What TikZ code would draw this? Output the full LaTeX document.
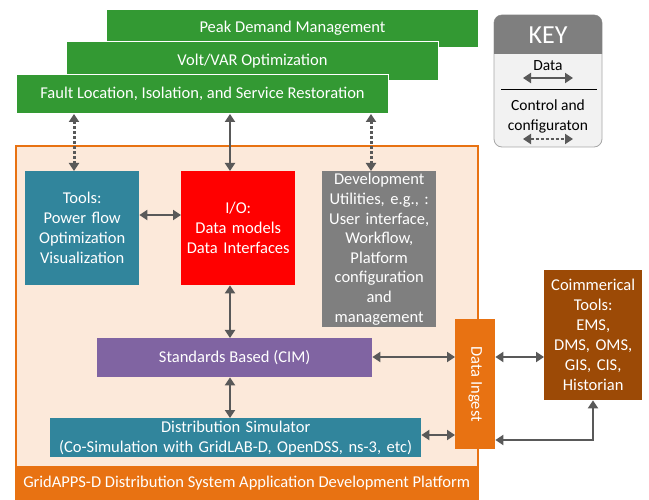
\documentclass[tikz,border=0pt]{standalone}
\usepackage{fontspec}
\setmainfont{Carlito}
\usetikzlibrary{arrows.meta,calc}
\definecolor{grn}{HTML}{339933}
\definecolor{teal2}{HTML}{31859C}
\definecolor{redbox}{HTML}{FF0000}
\definecolor{graybox}{HTML}{7F7F7F}
\definecolor{purp}{HTML}{8064A2}
\definecolor{orng}{HTML}{E87212}
\definecolor{peach}{HTML}{FCE9DA}
\definecolor{brown2}{HTML}{9C4A06}
\definecolor{arrowc}{HTML}{595959}
\definecolor{keylight}{HTML}{F2F2F2}
\definecolor{keyborder}{HTML}{A6A6A6}
\begin{document}
\begin{tikzpicture}[x=1pt,y=-1pt,
  box/.style={anchor=north west,inner sep=0pt,align=center,text=white,
    font=\fontsize{16.5}{20}\selectfont},
  greenbox/.style={box,fill=grn,draw=white,line width=1pt},
  data/.style={draw=arrowc,line width=2.6pt,{Triangle[width=10pt,length=8pt]}-{Triangle[width=10pt,length=8pt]}},
  ctrl/.style={data,dash pattern=on 3pt off 2pt,line width=3pt},
]
\useasboundingbox (0,0) rectangle (649,500);
% green application boxes
\node[greenbox,minimum width=372pt,minimum height=38pt] (peak) at (106,9) {Peak Demand Management};
\node[greenbox,minimum width=372pt,minimum height=39pt] (volt) at (66,41) {Volt/VAR Optimization};
\node[greenbox,minimum width=372pt,minimum height=39pt] (fault) at (16,74) {Fault Location, Isolation, and Service Restoration};
% platform frame
\draw[fill=peach,draw=orng,line width=2pt] (16,146) rectangle (478,500);
\node[box,fill=orng,minimum width=463pt,minimum height=34pt] (platform) at (15,466) {GridAPPS-D Distribution System Application Development Platform};
% inner boxes
\node[box,fill=teal2,minimum width=114pt,minimum height=114pt,text width=112pt] (tools) at (25,171) {Tools:\\Power flow\\Optimization\\Visualization};
\node[box,fill=redbox,minimum width=114pt,minimum height=114pt,text width=112pt] (io) at (181,171) {I/O:\\Data models\\Data Interfaces};
\node[box,fill=graybox,minimum width=114pt,minimum height=156pt,text width=112pt,font=\fontsize{16.5}{19.6}\selectfont] (dev) at (322,171) {Development\\Utilities, e.g., :\\User interface,\\Workflow,\\Platform\\configuration\\and\\management};
\node[box,fill=purp,minimum width=275pt,minimum height=39pt] (cim) at (97,338) {Standards Based (CIM)};
\node[box,fill=teal2,minimum width=371pt,minimum height=39pt,text width=368pt] (sim) at (50,418) {Distribution Simulator\\(Co-Simulation with GridLAB-D, OpenDSS, ns-3, etc)};
\node[box,fill=orng,minimum width=40pt,minimum height=130pt] (ingest) at (455,319) {};
\node[text=white,rotate=-90,font=\fontsize{16.5}{20}\selectfont] (ingestlbl) at (ingest.center) {Data Ingest};
\node[box,fill=brown2,minimum width=98pt,minimum height=130pt,text width=96pt] (comm) at (544,270) {Coimmerical\\Tools:\\EMS,\\DMS, OMS,\\GIS, CIS,\\Historian};
% key
\fill[keylight,draw=keyborder,line width=0.8pt,rounded corners=8pt] (494,15) rectangle (602,147);
\begin{scope}
\clip (490,10) rectangle (606,54);
\fill[graybox,rounded corners=8pt] (494,15) rectangle (602,147);
\end{scope}
\node[text=white,font=\fontsize{26}{28}\selectfont] (keytitle) at (548,35) {KEY};
\node[font=\fontsize{15.5}{18}\selectfont] (keydata) at (548,66) {Data};
\coordinate (kd1) at (523,78);
\coordinate (kd2) at (573,78);
\draw[data,line width=2.2pt] (kd1) -- (kd2);
\coordinate (ks1) at (501,89);
\coordinate (ks2) at (597,89);
\draw[black,line width=0.8pt] (ks1) -- (ks2);
\node[align=center,font=\fontsize{15.5}{20}\selectfont] (keyctrl) at (548,116) {Control and\\configuraton};
\coordinate (kc1) at (523,139);
\coordinate (kc2) at (573,139);
\draw[ctrl,line width=2.4pt] (kc1) -- (kc2);
% connectors
\draw[ctrl] (fault.south -| 74,0) -- (tools.north -| 74,0);
\draw[ctrl] (fault.south -| 371,0) -- (dev.north -| 371,0);
\draw[data] (fault.south -| 230,0) -- (io.north -| 230,0);
\draw[data] (tools.east |- 0,215) -- (io.west |- 0,215);
\draw[data] (io.south -| 230,0) -- (cim.north -| 230,0);
\draw[data] (cim.south -| 230,0) -- (sim.north -| 230,0);
\draw[data] (cim.east |- 0,357) -- (ingest.west |- 0,357);
\draw[data] (sim.east |- 0,435) -- (ingest.west |- 0,435);
\draw[data] (ingest.east |- 0,357) -- (comm.west |- 0,357);
\draw[data] (ingest.east |- 0,440) -- (593,440) -- (comm.south -| 593,0);
\end{tikzpicture}
\end{document}
